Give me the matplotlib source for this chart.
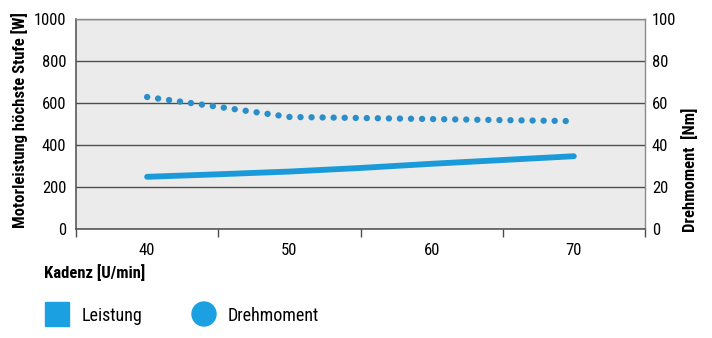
import matplotlib
matplotlib.use('Agg')
import matplotlib.pyplot as plt
from matplotlib import font_manager
from matplotlib.patches import Rectangle, Circle

# Kadenz [U/min]
cadence = [40, 45, 50, 55, 60, 65, 70]
# Motorleistung [W]
power = [250, 262, 275, 292, 312, 330, 348]
# Drehmoment [Nm]
torque = [63.0, 58.3, 53.5, 53.0, 52.5, 52.0, 51.5]

x_labels = ['40', '50', '60', '70']
left_ticks = [0, 200, 400, 600, 800, 1000]
right_ticks = [0, 20, 40, 60, 80, 100]

# pick a narrow face if one is installed
installed = {f.name for f in font_manager.fontManager.ttflist}
family = 'DejaVu Sans'
for name in ['Liberation Sans Narrow', 'DejaVu Sans Condensed', 'Roboto Condensed', 'Liberation Sans']:
    if name in installed:
        family = name
        break
plt.rcParams['font.family'] = [family, 'DejaVu Sans']

line_blue = '#1a9ad8'
dot_blue = '#2a8fc8'
grid_col = '#4d4d4d'

W, H = 712, 338
fig = plt.figure(figsize=(W / 100, H / 100), dpi=100)
ax = fig.add_axes([76 / W, 1 - 229.3 / H, (645 - 76) / W, (229.3 - 19.3) / H])
ax.set_facecolor('#ebebeb')

ax.set_xlim(35, 75)
ax.set_ylim(0, 1000)
ax.set_yticks(left_ticks)
ax.set_yticklabels([str(t) for t in left_ticks])
ax.set_xticks([int(s) for s in x_labels])
ax.set_xticklabels(x_labels)
ax.set_xticks([35, 45, 55, 65, 75], minor=True)
ax.tick_params(axis='x', which='major', length=0, pad=10, labelsize=12)
ax.tick_params(axis='x', which='minor', length=6, width=1, direction='out', color=grid_col)
ax.tick_params(axis='y', length=0, pad=7, labelsize=12)
ax.grid(axis='y', color=grid_col, linewidth=1)
ax.set_axisbelow(True)

for side in ['left', 'bottom']:
    ax.spines[side].set_color(grid_col)
    ax.spines[side].set_linewidth(1.1)
for side in ['top', 'right']:
    ax.spines[side].set_color('#8a8a8a')
    ax.spines[side].set_linewidth(1)

ax.plot(cadence, power, color=line_blue, linewidth=4.2, solid_capstyle='round', zorder=3)

ax2 = ax.twinx()
ax2.set_ylim(0, 100)
ax2.set_yticks(right_ticks)
ax2.set_yticklabels([str(t) for t in right_ticks])
ax2.tick_params(axis='y', length=0, pad=5, labelsize=12)
for side in ax2.spines.values():
    side.set_visible(False)
ax2.plot(cadence, torque, color=dot_blue, linewidth=4.6,
         linestyle=(0, (0.01, 1.72)), dash_capstyle='round', zorder=3)

fig.text(20 / W, 1 - 120 / H, 'Motorleistung höchste Stufe [W]', rotation=90,
         ha='center', va='center', fontsize=12, fontweight='bold')
fig.text(690 / W, 1 - 232 / H, 'Drehmoment  [Nm]', rotation=90,
         ha='center', va='bottom', fontsize=12, fontweight='bold')
fig.text(44 / W, 1 - 273 / H, 'Kadenz [U/min]', ha='left', va='center',
         fontsize=12, fontweight='bold')

# legend drawn by hand: square for the power line, circle for the torque line
fig.patches.append(Rectangle((45 / W, 1 - 326 / H), 24 / W, 24 / H,
                             transform=fig.transFigure, color='#1ba1e2'))
fig.text(82 / W, 1 - 316 / H, 'Leistung', ha='left', va='center', fontsize=13)
fig.patches.append(Circle((204, H - 314), 12, transform=None, color='#1ba1e2'))
fig.text(228 / W, 1 - 316 / H, 'Drehmoment', ha='left', va='center', fontsize=13)

fig.savefig('out.png', dpi=100)
